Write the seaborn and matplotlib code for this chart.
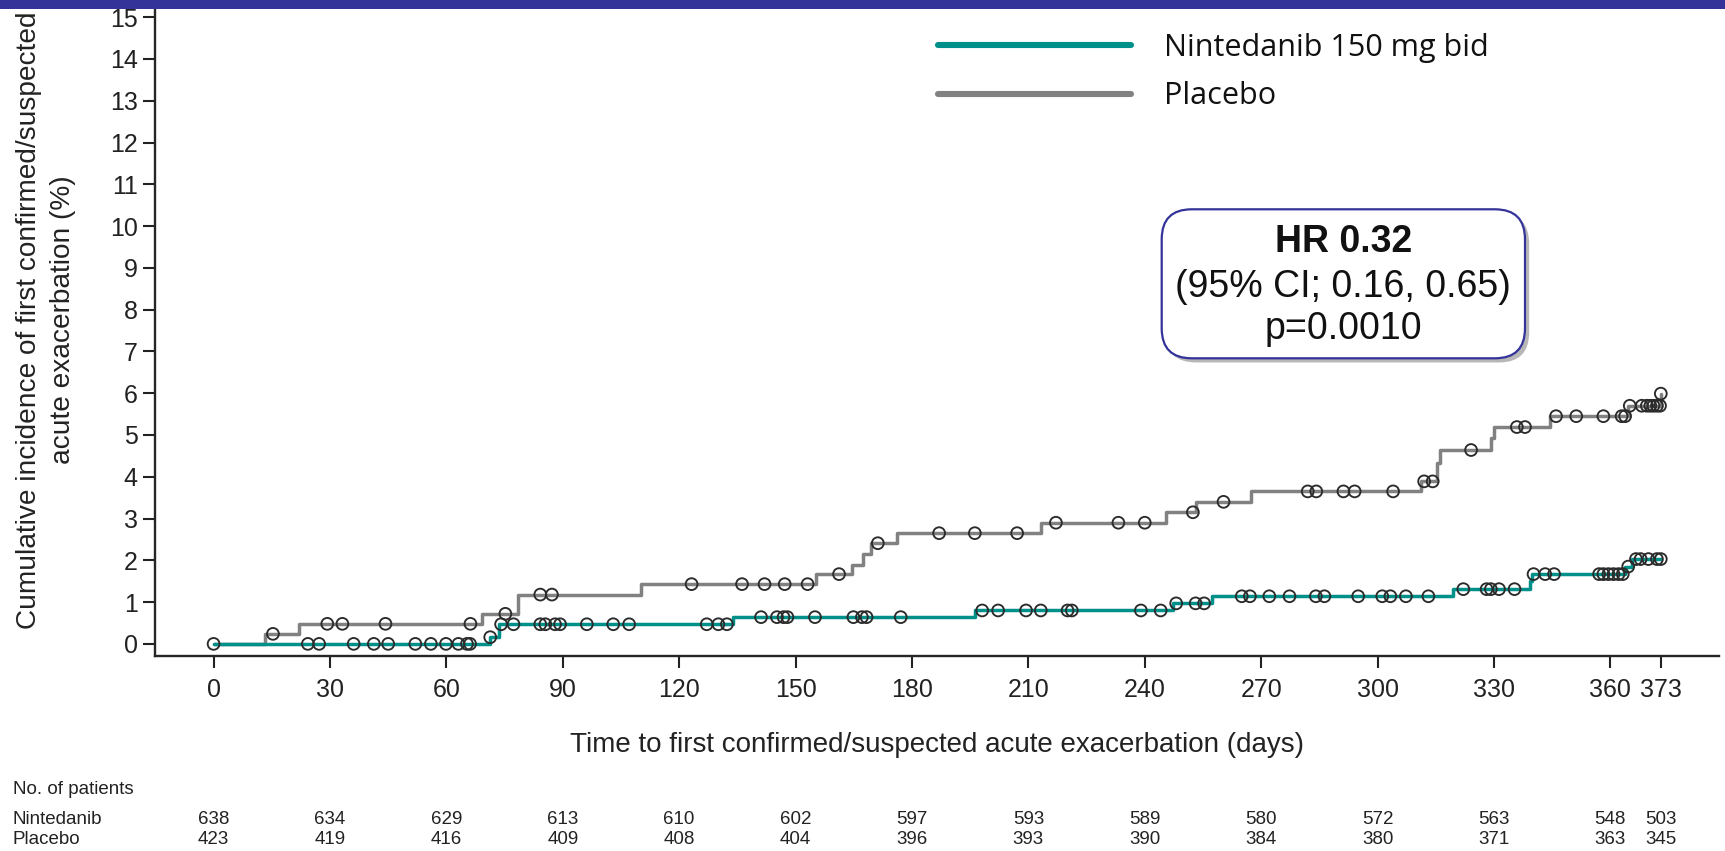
import numpy as np
import pandas as pd
import matplotlib
matplotlib.use("Agg")
import matplotlib.pyplot as plt
import seaborn as sns
from matplotlib.patches import FancyBboxPatch, Rectangle
from matplotlib.lines import Line2D
import matplotlib.patheffects as pe
import matplotlib.transforms as mtransforms

# ---- cumulative incidence step points (day, %) ----
nint_time = [0, 71.2, 73.5, 134.0, 196.3, 247.2, 257.3, 319.4, 339.3, 339.9, 363.8, 365.5, 373.0]
nint_cum = [0, 0.16, 0.47, 0.64, 0.80, 0.97, 1.14, 1.31, 1.51, 1.67, 1.85, 2.03, 2.03]
plac_time = [0, 13.3, 22.0, 69.1, 78.5, 110.1, 155.2, 164.5, 167.5, 169.4, 176.2, 213.3,
             245.5, 253.1, 267.4, 311.1, 315.3, 316.1, 329.3, 330.1, 344.5, 364.6, 373.0]
plac_cum = [0, 0.24, 0.48, 0.72, 1.18, 1.43, 1.67, 1.90, 2.16, 2.41, 2.65, 2.90,
            3.15, 3.40, 3.65, 3.89, 4.32, 4.64, 4.93, 5.19, 5.45, 5.70, 5.99]

# ---- censoring times (days) ----
nint_cens = [0, 24.3, 27.2, 36.1, 41.3, 45.0, 52.0, 56.0, 59.9, 63.1, 65.3, 66.1, 71.3,
             74.1, 77.3, 84.2, 85.5, 88.0, 89.3, 96.2, 103.0, 107.1, 127.1, 130.1, 132.3,
             141.1, 145.2, 146.9, 147.9, 155.0, 164.9, 167.1, 168.3, 177.1,
             198.1, 202.2, 209.4, 213.2, 220.1, 221.2, 239.0, 244.1,
             248.1, 253.1, 255.3, 265.0, 267.1, 272.1, 277.3, 284.1, 286.3, 295.0,
             301.2, 303.3, 307.3, 313.1, 322.1, 328.1, 329.2, 331.3, 335.3,
             340.2, 343.2, 345.5, 357.1, 358.2, 359.5, 360.8, 362.1, 363.2, 364.6,
             366.6, 367.8, 369.8, 372.0, 373.0]
plac_cens = [15.3, 29.3, 33.2, 44.3, 66.2, 75.2, 84.2, 87.2, 123.2, 136.2, 142.0, 147.2,
             153.1, 161.2, 171.2, 187.0, 196.2, 207.1, 217.1, 233.2, 240.0, 252.4, 260.3,
             282.0, 284.2, 291.2, 294.1, 304.0, 312.0, 314.2, 324.1, 335.9, 338.0,
             346.0, 351.2, 358.2, 362.9, 363.8, 365.0, 368.1, 369.4, 370.3, 371.1,
             372.0, 372.8, 373.0]

# ---- number at risk table ----
risk_days = [0, 30, 60, 90, 120, 150, 180, 210, 240, 270, 300, 330, 360, 373]
nint_risk = [638, 634, 629, 613, 610, 602, 597, 593, 589, 580, 572, 563, 548, 503]
plac_risk = [423, 419, 416, 409, 408, 404, 396, 393, 390, 384, 380, 371, 363, 345]

group_names = ["Nintedanib 150 mg bid", "Placebo"]
TEAL = "#00908a"
GREY = "#818181"
NAVY = "#333399"

sns.set_theme(style="ticks")
plt.rcParams["font.family"] = ["Liberation Sans", "DejaVu Sans"]
plt.rcParams["axes.linewidth"] = 1.7

W, H = 1725, 851
fig = plt.figure(figsize=(W / 100, H / 100), dpi=100)
ax = fig.add_axes([155 / W, (H - 656) / H, (1719 - 155) / W, (656 - 8) / H])


def step_value(times, vals, t):
    idx = np.searchsorted(times, t, side="right") - 1
    return np.asarray(vals)[idx]


curves = pd.concat([
    pd.DataFrame({"day": plac_time, "cum": plac_cum, "arm": "Placebo"}),
    pd.DataFrame({"day": nint_time, "cum": nint_cum, "arm": "Nintedanib"}),
])
cens = pd.concat([
    pd.DataFrame({"day": plac_cens, "cum": step_value(plac_time, plac_cum, plac_cens)}),
    pd.DataFrame({"day": nint_cens, "cum": step_value(nint_time, nint_cum, nint_cens)}),
])

sns.lineplot(data=curves, x="day", y="cum", hue="arm", units="arm", estimator=None,
             sort=False, drawstyle="steps-post", linewidth=2.5,
             palette={"Placebo": GREY, "Nintedanib": TEAL}, legend=False, ax=ax)
sns.scatterplot(data=cens, x="day", y="cum", marker="o", s=72, facecolor="none",
                edgecolor="#2b2b2b", linewidth=1.35, legend=False, ax=ax, zorder=5)

ax.set_xlim(-15.1, 388)
ax.set_ylim(-0.29, 15.22)
ax.set_xticks(risk_days)
ax.set_yticks(range(0, 16))
sns.despine(ax=ax)
ax.tick_params(axis="both", direction="out", length=8.5, width=1.5, colors="#222222",
               labelsize=18)
ax.tick_params(axis="x", pad=7)
ax.tick_params(axis="y", pad=4)
ax.set_xlabel("Time to first confirmed/suspected acute exacerbation (days)",
              fontsize=20, color="#222222", labelpad=22)
ax.set_ylabel("")
fig.text(46 / W, 1 - 320 / H,
         "Cumulative incidence of first confirmed/suspected\nacute exacerbation (%)",
         rotation=90, ha="center", va="center", multialignment="center",
         fontsize=20.2, color="#222222", linespacing=1.4)

# legend
handles = [Line2D([], [], color=TEAL, lw=4.4), Line2D([], [], color=GREY, lw=4.4)]
leg = ax.legend(handles, group_names, loc="upper left",
                bbox_to_anchor=(938 / W, 1 - 33 / H), bbox_transform=fig.transFigure,
                frameon=False, borderpad=0, borderaxespad=0, handlelength=6.3,
                handletextpad=1.1, labelspacing=0.6,
                prop={"family": ["Open Sans", "DejaVu Sans"], "size": 22})
for t in leg.get_texts():
    t.set_color("#111111")

# hazard ratio box
box = FancyBboxPatch((1161.7 / 100, (H - 358.3) / 100), (1525 - 1161.7) / 100,
                     (358.3 - 209.3) / 100, boxstyle="round,pad=0,rounding_size=0.3",
                     transform=fig.dpi_scale_trans, facecolor="white", edgecolor=NAVY,
                     linewidth=1.6, zorder=3)
box.set_path_effects([pe.SimplePatchShadow(offset=(3, -3), shadow_rgbFace="#888888", alpha=0.6),
                      pe.Normal()])
fig.add_artist(box)
cx = 1343.4 / W
fig.text(cx, 1 - 252.5 / H, "HR 0.32", ha="center", va="baseline", fontsize=27,
         fontweight="bold", color="#111111", zorder=4)
fig.text(cx, 1 - 297 / H, "(95% CI; 0.16, 0.65)", ha="center", va="baseline",
         fontsize=27, color="#111111", zorder=4)
fig.text(cx, 1 - 339 / H, "p=0.0010", ha="center", va="baseline", fontsize=27,
         color="#111111", zorder=4)

# top banner
fig.add_artist(Rectangle((0, 1 - 9 / H), 1, 9 / H, transform=fig.transFigure,
                         facecolor=NAVY, edgecolor="none", zorder=10))

# number at risk
blend = mtransforms.blended_transform_factory(ax.transData, fig.transFigure)
fig.text(13 / W, 1 - 790 / H, "No. of patients", ha="left", va="center", fontsize=13.5,
         color="#222222")
for label, counts, ypix in [("Nintedanib", nint_risk, 819.5), ("Placebo", plac_risk, 839)]:
    fig.text(13 / W, 1 - ypix / H, label, ha="left", va="center", fontsize=13.5,
             color="#222222")
    for d, n in zip(risk_days, counts):
        ax.text(d, 1 - ypix / H, str(n), transform=blend, ha="center", va="center",
                fontsize=13.5, color="#222222", clip_on=False)

fig.savefig("out.png", dpi=100)
